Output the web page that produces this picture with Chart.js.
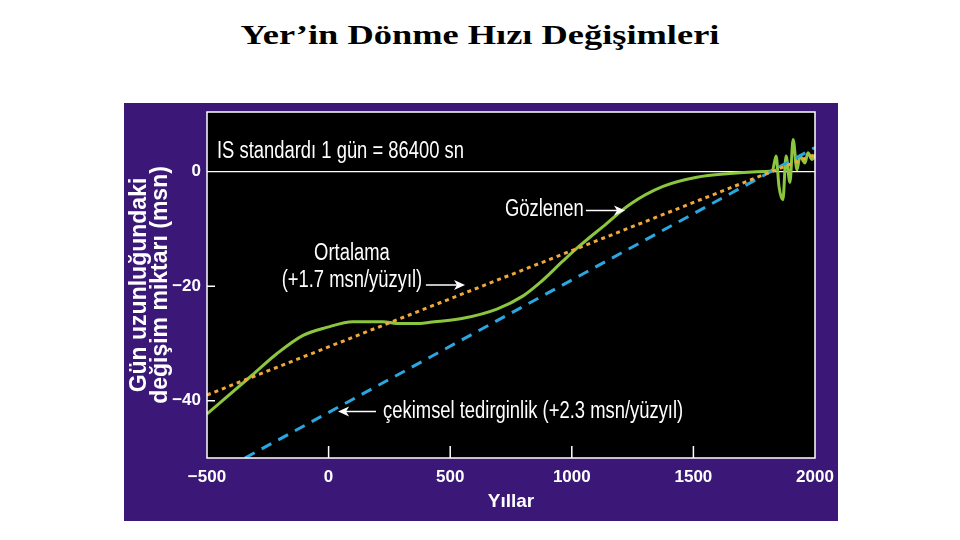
<!DOCTYPE html>
<html>
<head>
<meta charset="utf-8">
<script src="https://cdn.jsdelivr.net/npm/chart.js@4/dist/chart.umd.min.js"></script>
<style>
  body { margin: 0; background: #fff; width: 960px; height: 540px; position: relative; overflow: hidden; }
  #title { position: absolute; left: 0; top: 21px; width: 960px; text-align: center; font: bold 28px/28px "Liberation Serif", "Times New Roman", serif; color: #000; transform: scaleX(1.3); }
  #panel { position: absolute; left: 124px; top: 103px; width: 714px; height: 418px; background: #3b1878; }
</style>
</head>
<body>
<div id="title">Yer’in Dönme Hızı Değişimleri</div>
<div id="panel"><canvas id="chart"></canvas></div>
<script>
// observed length-of-day change (msn) by year
const observedYears = [-500, -316, -213, -105, -8, 100, 224, 280, 376, 417, 553, 692, 800, 869, 964, 1034, 1128, 1240, 1375, 1514, 1650, 1761, 1800, 1825, 1840, 1852, 1868, 1881, 1897, 1910, 1926, 1938, 1959, 1971, 1988, 2000]
const observedValues = [-42.3, -35.6, -31.8, -28.6, -27.2, -26.2, -26.2, -26.5, -26.5, -26.3, -25.6, -24.0, -21.7, -19.4, -15.6, -12.9, -9.6, -5.7, -2.6, -1.0, -0.35, -0.05, 0, 0.2, 2.7, -2.6, -4.9, 2.7, -1.9, 5.6, 0.3, 2.7, 1.5, 3.3, 2.1, 3.0]

// average trend (+1.7 msn/century)
const averageYears = [-500, 2000]
const averageValues = [-39.0, 3.0]

// tidal braking (+2.3 msn/century)
const tidalYears = [-344, 2000]
const tidalValues = [-50.0, 4.2]

const xTicks = [-500, 0, 500, 1000, 1500, 2000]
const yTicks = [0, -20, -40]

const toPoints = (xs, ys) => xs.map((x, i) => ({ x: x, y: ys[i] }))
const minus = v => String(v).replace('-', '\u2212')

const sans = '"Liberation Sans", Arial, Helvetica, sans-serif'

/*
Background, border, inner ticks, the 0 reference line and the text labels
*/
const framePlugin = {
	id: 'frame',
	beforeDraw(chart) {
		const { ctx, chartArea: a } = chart
		ctx.save()
		ctx.fillStyle = '#000'
		ctx.fillRect(a.left, a.top, a.right - a.left, a.bottom - a.top)
		ctx.restore()
	},
	beforeDatasetsDraw(chart) {
		const { ctx, chartArea: a, scales: { y } } = chart
		ctx.save()
		ctx.strokeStyle = '#fff'
		ctx.lineWidth = 1.2
		const y0 = y.getPixelForValue(0)
		ctx.beginPath()
		ctx.moveTo(a.left, y0)
		ctx.lineTo(a.right, y0)
		ctx.stroke()
		ctx.restore()
	},
	afterDatasetsDraw(chart) {
		const { ctx, chartArea: a, scales: { x, y } } = chart
		ctx.save()
		ctx.strokeStyle = '#fff'
		ctx.lineWidth = 1.5
		ctx.strokeRect(a.left, a.top, a.right - a.left, a.bottom - a.top)
		ctx.beginPath()
		xTicks.slice(1, -1).forEach(v => {
			const px = x.getPixelForValue(v)
			ctx.moveTo(px, a.bottom)
			ctx.lineTo(px, a.bottom - 12)
		})
		yTicks.slice(1).forEach(v => {
			const py = y.getPixelForValue(v)
			ctx.moveTo(a.left, py)
			ctx.lineTo(a.left + 8, py)
		})
		ctx.stroke()

		ctx.fillStyle = '#fff'
		ctx.font = '23px ' + sans
		ctx.textBaseline = 'middle'
		// narrow text: squeeze the regular face horizontally
		const text = (s, xv, yv, align) => {
			ctx.save()
			ctx.translate(x.getPixelForValue(xv), y.getPixelForValue(yv))
			ctx.scale(0.8, 1)
			ctx.textAlign = align
			ctx.fillText(s, 0, 0)
			ctx.restore()
		}
		const arrow = (x1, x2, yv) => {
			const p1 = x.getPixelForValue(x1)
			const p2 = x.getPixelForValue(x2)
			const py = y.getPixelForValue(yv)
			const dir = Math.sign(p2 - p1)
			ctx.lineWidth = 1.5
			ctx.beginPath()
			ctx.moveTo(p1, py)
			ctx.lineTo(p2 - dir * 6, py)
			ctx.stroke()
			ctx.beginPath()
			ctx.moveTo(p2, py)
			ctx.lineTo(p2 - dir * 11, py - 5)
			ctx.lineTo(p2 - dir * 8, py)
			ctx.lineTo(p2 - dir * 11, py + 5)
			ctx.closePath()
			ctx.fill()
		}
		text('IS standardı 1 gün = 86400 sn', -459, 3.5, 'left')
		text('Gözlenen', 725, -6.6, 'left')
		arrow(1058, 1219, -6.8)
		text('Ortalama', 96, -14.3, 'center')
		text('(+1.7 msn/yüzyıl)', 96, -19.1, 'center')
		arrow(400, 561, -19.8)
		text('çekimsel tedirginlik (+2.3 msn/yüzyıl)', 224, -41.9, 'left')
		arrow(195, 39, -41.9)
		ctx.restore()
	}
}

const chart = new Chart(document.getElementById('chart'), {
	type: 'line',
	data: {
		datasets: [
			{
				data: toPoints(averageYears, averageValues),
				borderColor: '#f0a83c',
				borderWidth: 3,
				borderDash: [4, 4],
				pointRadius: 0
			},
			{
				data: toPoints(tidalYears, tidalValues),
				borderColor: '#2ba7e0',
				borderWidth: 3,
				borderDash: [11, 8],
				pointRadius: 0
			},
			{
				data: toPoints(observedYears, observedValues),
				borderColor: '#8cc63f',
				borderWidth: 3,
				pointRadius: 0,
				cubicInterpolationMode: 'monotone'
			}
		]
	},
	options: {
		animation: false,
		responsive: true,
		maintainAspectRatio: false,
		layout: { padding: { top: 9, right: 23, left: 0, bottom: 0 } },
		plugins: { legend: { display: false }, tooltip: { enabled: false } },
		scales: {
			x: {
				type: 'linear',
				min: -500,
				max: 2000,
				afterFit: s => { s.height = 63; s.paddingLeft = 0; s.paddingRight = 0 },
				afterBuildTicks: s => { s.ticks = xTicks.map(v => ({ value: v })) },
				grid: { display: false, drawTicks: false, tickLength: 0 },
				border: { display: false },
				ticks: {
					color: '#fff',
					padding: 9,
					maxRotation: 0,
					autoSkip: false,
					font: { family: sans, size: 17, weight: 'bold' },
					callback: v => minus(v)
				},
				title: {
					display: true,
					text: 'Yıllar',
					color: '#fff',
					font: { family: sans, size: 19, weight: 'bold', lineHeight: 1 },
					padding: { top: 0, bottom: 10 }
				}
			},
			y: {
				min: -50,
				max: 10.4,
				afterFit: s => { s.width = 83; s.paddingTop = 0; s.paddingBottom = 0 },
				afterBuildTicks: s => { s.ticks = yTicks.map(v => ({ value: v })) },
				grid: { display: false, drawTicks: false, tickLength: 0 },
				border: { display: false },
				ticks: {
					color: '#fff',
					padding: 6,
					font: { family: sans, size: 17, weight: 'bold' },
					callback: v => minus(v)
				},
				title: {
					display: true,
					text: ['Gün uzunluğundaki', 'değişim miktarı (msn)'],
					color: '#fff',
					font: { family: sans, size: 23, weight: 'bold', lineHeight: 0.92 },
					padding: { top: 5, bottom: 0 }
				}
			}
		}
	},
	plugins: [framePlugin]
})
</script>
</body>
</html>
